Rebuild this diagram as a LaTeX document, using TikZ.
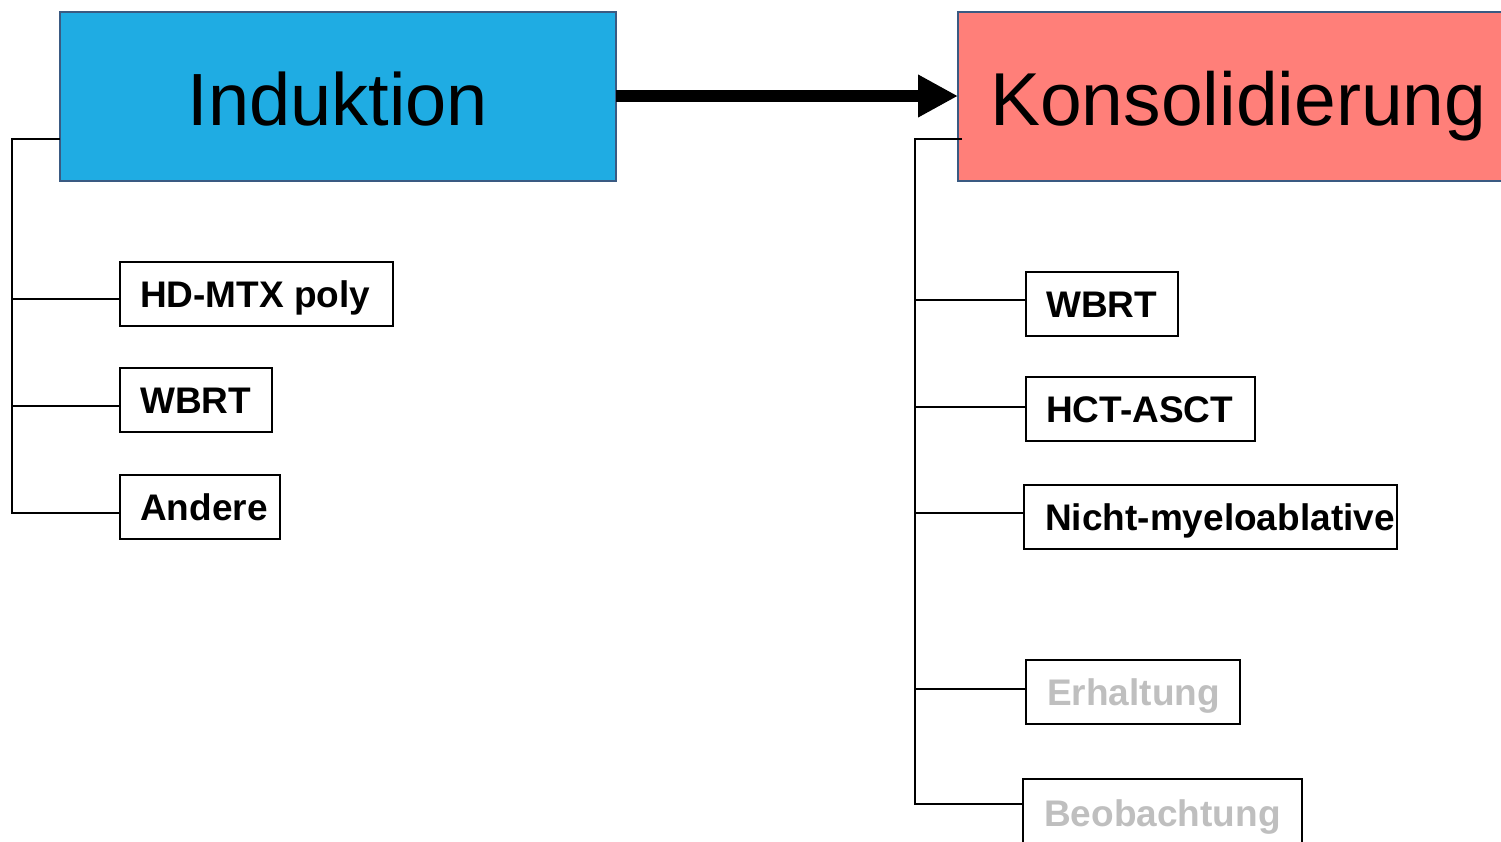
\documentclass[tikz,border=0pt]{standalone}
\usepackage{fontspec}
\setmainfont{Liberation Sans}
\usetikzlibrary{arrows.meta}
\definecolor{indblue}{HTML}{1FACE3}
\definecolor{konsred}{HTML}{FF7F79}
\definecolor{bigborder}{HTML}{3A5A82}
\definecolor{fadedtext}{HTML}{BFBFBF}
\tikzset{
  bigbox/.style={draw=bigborder, line width=1.5pt, anchor=north west, inner sep=0pt, outer sep=0pt},
  bigtext/.style={font=\fontsize{74}{80}\selectfont, inner sep=0pt},
  smallbox/.style={draw=black, line width=2pt, fill=white, anchor=north west, inner sep=0pt, outer sep=0pt, minimum height=64pt},
  smalltext/.style={font=\fontsize{37}{40}\selectfont\bfseries, inner sep=0pt, anchor=base west},
  treeline/.style={draw=black, line width=2pt},
  bigarrow/.style={line width=12pt, -{Triangle[length=40pt,width=40pt]}}
}
\begin{document}
\begin{tikzpicture}[x=1pt,y=-1pt]
\useasboundingbox (0,0) rectangle (1501,841);
% main boxes
\node[bigbox, fill=indblue, minimum width=556pt, minimum height=169pt] (ind) at (60,12) {};
\node[bigtext, anchor=base] (indt) at (338,125) {Induktion};
\node[bigbox, fill=konsred, minimum width=560pt, minimum height=169pt] (kons) at (958,12) {};
\node[bigtext, anchor=base west, font=\fontsize{75}{80}\selectfont] (konst) at (990,125) {Konsolidierung};
% arrow
\draw[bigarrow] (ind.east |- 0,96) -- (kons.west |- 0,96);
% left tree
\coordinate (lroot) at (12,139);
\node[smallbox, minimum width=273pt] (hd) at (120,262) {};
\node[smalltext] (hdt) at ([xshift=20pt,yshift=-13pt]hd.west) {HD-MTX poly};
\node[smallbox, minimum width=152pt] (lwbrt) at (120,368) {};
\node[smalltext] (lwbrtt) at ([xshift=20pt,yshift=-13pt]lwbrt.west) {WBRT};
\node[smallbox, minimum width=160pt] (andere) at (120,475) {};
\node[smalltext] (anderet) at ([xshift=20pt,yshift=-13pt]andere.west) {Andere};
\draw[treeline] (ind.west |- lroot) -- (lroot) |- ([yshift=-6pt]andere.west);
\draw[treeline] (lroot) |- ([yshift=-5pt]hd.west);
\draw[treeline] (lroot) |- ([yshift=-6pt]lwbrt.west);
% right tree
\coordinate (rroot) at (915,139);
\coordinate (rjoin) at (962,139);
\node[smallbox, minimum width=152pt] (rwbrt) at (1026,272) {};
\node[smalltext] (rwbrtt) at ([xshift=20pt,yshift=-13pt]rwbrt.west) {WBRT};
\node[smallbox, minimum width=229pt] (hct) at (1026,377) {};
\node[smalltext] (hctt) at ([xshift=20pt,yshift=-13pt]hct.west) {HCT-ASCT};
\node[smallbox, minimum width=373pt] (nicht) at (1024,485) {};
\node[smalltext] (nichtt) at ([xshift=21pt,yshift=-13pt]nicht.west) {Nicht-myeloablative};
\node[smallbox, minimum width=214pt] (erh) at (1026,660) {};
\node[smalltext, text=fadedtext] (erht) at ([xshift=21pt,yshift=-13pt]erh.west) {Erhaltung};
\node[smallbox, minimum width=279pt] (beo) at (1023,779) {};
\node[smalltext, text=fadedtext] (beot) at ([xshift=21pt,yshift=-15pt]beo.west) {Beobachtung};
\draw[treeline] (rjoin) -- (rroot) |- ([yshift=7pt]beo.west);
\draw[treeline] (rroot) |- ([yshift=4pt]rwbrt.west);
\draw[treeline] (rroot) |- ([yshift=2pt]hct.west);
\draw[treeline] (rroot) |- ([yshift=4pt]nicht.west);
\draw[treeline] (rroot) |- ([yshift=3pt]erh.west);
\end{tikzpicture}
\end{document}
